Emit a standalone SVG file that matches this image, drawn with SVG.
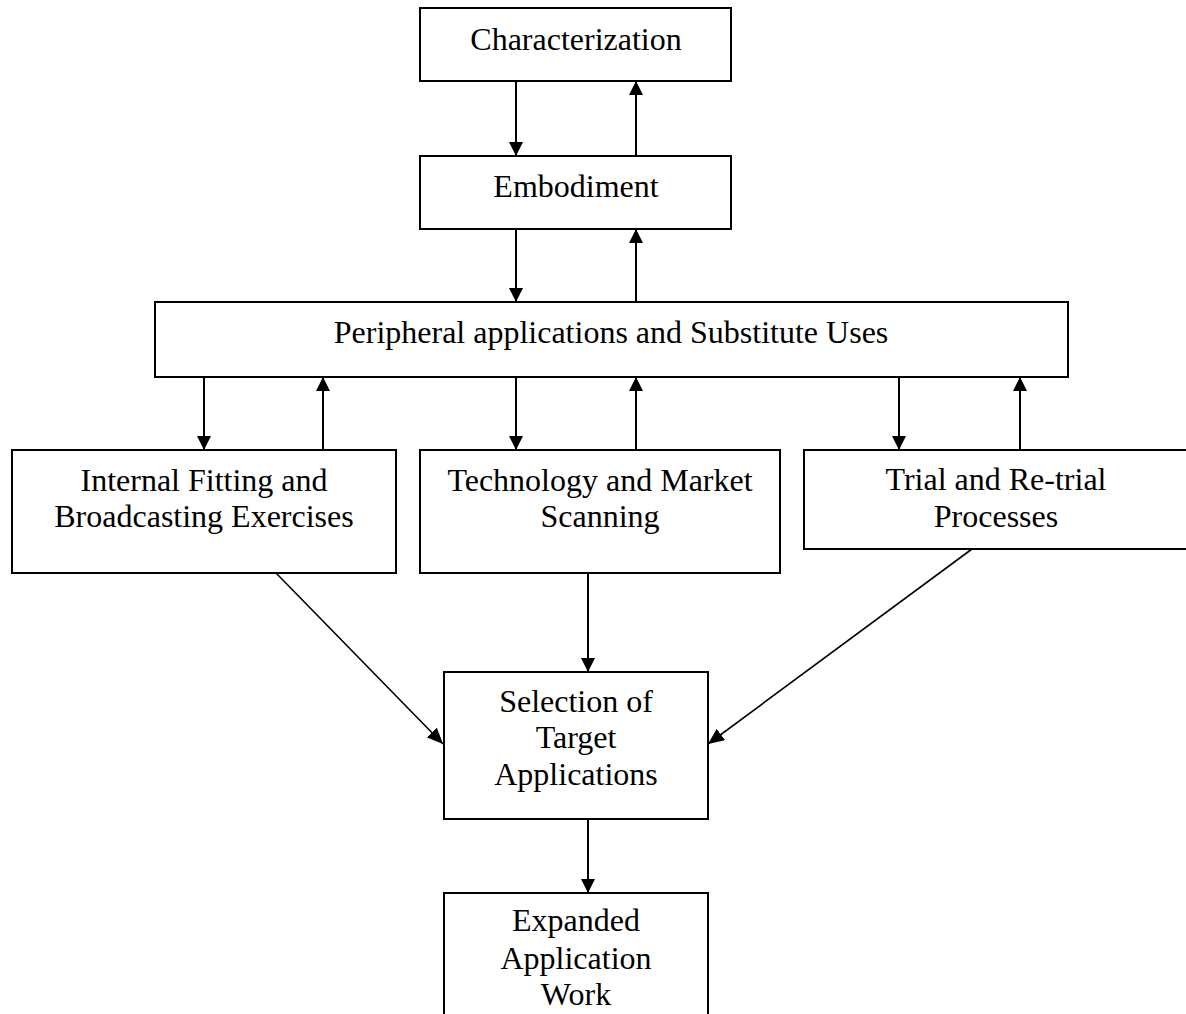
<svg xmlns="http://www.w3.org/2000/svg" width="1186" height="1014" viewBox="0 0 1186 1014">
<style>
.box{fill:#fff;stroke:#000;stroke-width:2}
.t{font-family:"Liberation Serif","Times New Roman",serif;font-size:32px;fill:#000;text-anchor:middle}
.c{stroke:#000;stroke-width:2;fill:none;marker-end:url(#ah)}
.d{stroke:#000;stroke-width:1.6;fill:none;marker-end:url(#ah2)}
</style>
<defs>
<marker id="ah" markerWidth="14" markerHeight="14" refX="14" refY="7" orient="auto" markerUnits="userSpaceOnUse">
<path d="M0,0 L14,7 L0,14 Z" fill="#000"/>
</marker>
<marker id="ah2" markerWidth="16" markerHeight="14" refX="16" refY="7" orient="auto" markerUnits="userSpaceOnUse">
<path d="M0,0 L16,7 L0,14 Z" fill="#000"/>
</marker>
</defs>
<rect width="1186" height="1014" fill="#fff"/>
<g id="connectors">
<line class="c" x1="516" y1="81" x2="516" y2="156"/>
<line class="c" x1="636" y1="156" x2="636" y2="81"/>
<line class="c" x1="516" y1="229" x2="516" y2="302"/>
<line class="c" x1="636" y1="302" x2="636" y2="229"/>
<line class="c" x1="204" y1="377" x2="204" y2="450"/>
<line class="c" x1="323" y1="450" x2="323" y2="377"/>
<line class="c" x1="516" y1="377" x2="516" y2="450"/>
<line class="c" x1="636" y1="450" x2="636" y2="377"/>
<line class="c" x1="899" y1="377" x2="899" y2="450"/>
<line class="c" x1="1020" y1="450" x2="1020" y2="377"/>
<line class="c" x1="588" y1="573" x2="588" y2="672"/>
<line class="c" x1="588" y1="819" x2="588" y2="893"/>
<line class="d" x1="276" y1="573" x2="443" y2="744"/>
<line class="d" x1="972" y1="549" x2="708" y2="744"/>
</g>
<g id="characterization">
<rect class="box" x="420" y="8" width="311" height="73"/>
<text class="t" x="576" y="50">Characterization</text>
</g>
<g id="embodiment">
<rect class="box" x="420" y="156" width="311" height="73"/>
<text class="t" x="576" y="197">Embodiment</text>
</g>
<g id="peripheral">
<rect class="box" x="155" y="302" width="913" height="75"/>
<text class="t" x="611" y="343">Peripheral applications and Substitute Uses</text>
</g>
<g id="internal">
<rect class="box" x="12" y="450" width="384" height="123"/>
<text class="t" x="204" y="491">Internal Fitting and</text>
<text class="t" x="204" y="527">Broadcasting Exercises</text>
</g>
<g id="technology">
<rect class="box" x="420" y="450" width="360" height="123"/>
<text class="t" x="600" y="491">Technology and Market</text>
<text class="t" x="600" y="527">Scanning</text>
</g>
<g id="trial">
<rect class="box" x="804" y="450" width="386" height="99"/>
<text class="t" x="996" y="490">Trial and Re-trial</text>
<text class="t" x="996" y="527">Processes</text>
</g>
<g id="selection">
<rect class="box" x="444" y="672" width="264" height="147"/>
<text class="t" x="576" y="712">Selection of</text>
<text class="t" x="576" y="748">Target</text>
<text class="t" x="576" y="785">Applications</text>
</g>
<g id="expanded">
<rect class="box" x="444" y="893" width="264" height="130"/>
<text class="t" x="576" y="931">Expanded</text>
<text class="t" x="576" y="969">Application</text>
<text class="t" x="576" y="1005">Work</text>
</g>
</svg>
